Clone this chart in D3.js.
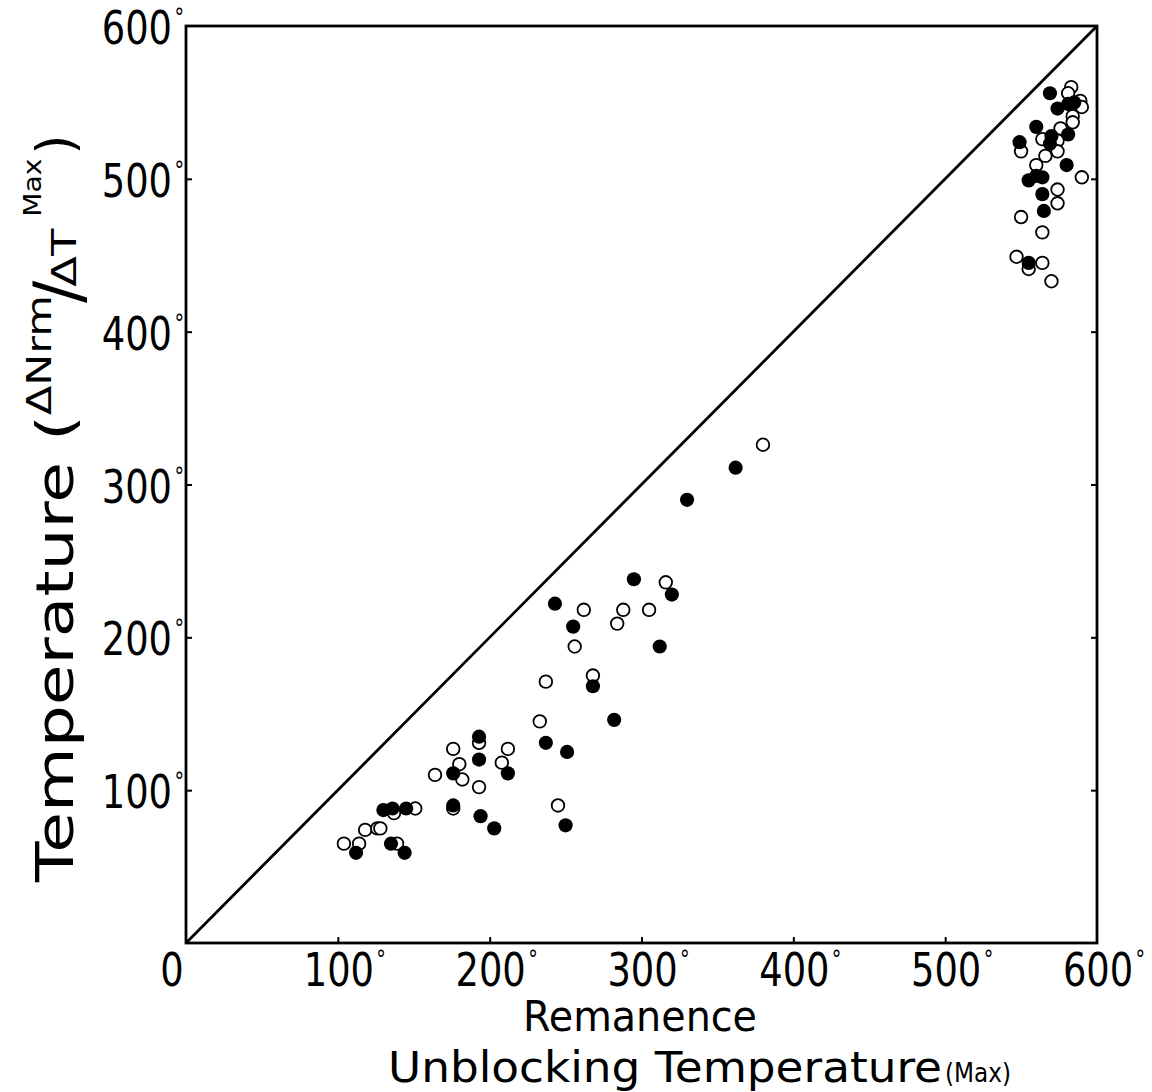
<!DOCTYPE html>
<html>
<head>
<meta charset="utf-8">
<script src="https://cdn.jsdelivr.net/npm/d3@7"></script>
<style>
  html, body { margin: 0; padding: 0; background: #fff; }
  svg { display: block; }
  text { font-family: "DejaVu Sans", "Liberation Sans", sans-serif; fill: #000; }
</style>
</head>
<body>
<svg id="chart" width="1152" height="1092"></svg>
<script>
// ---- data (degrees C) ----
const xTickValues = [0, 100, 200, 300, 400, 500, 600];
const xTickLabels = ["0", "100", "200", "300", "400", "500", "600"];
const yTickValues = [100, 200, 300, 400, 500, 600];
const yTickLabels = ["100", "200", "300", "400", "500", "600"];

// open circles: [unblocking temperature, temperature of max dNrm/dT]
const openPoints = [
  [104, 65], [114, 65], [118, 74], [126, 75], [128, 75], [137, 85], [151, 88], [139, 65],
  [164, 110], [176, 127], [176, 88], [180, 117], [182, 107], [193, 131], [193, 102],
  [208, 118], [212, 127], [233, 145], [237, 171], [245, 90], [256, 194], [262, 218],
  [268, 175], [284, 209], [288, 218], [305, 218], [316, 236], [380, 326],
  [583, 560], [581, 556], [589, 551], [590, 547], [584, 541], [576, 533], [584, 537],
  [564, 526], [574, 525], [550, 518], [566, 515], [574, 518], [560, 509], [590, 501],
  [574, 493], [574, 484], [550, 475], [564, 465], [547, 449], [555, 441], [564, 445],
  [570, 433]
];
// filled circles
const filledPoints = [
  [112, 59], [130, 87], [136, 88], [145, 88], [135, 65], [144, 59], [176, 111], [176, 90],
  [193, 135], [193, 120], [194, 83], [203, 75], [212, 111], [237, 131], [243, 222],
  [251, 125], [250, 77], [255, 207], [268, 168], [282, 146], [295, 238], [312, 194],
  [320, 228], [330, 290], [362, 311],
  [569, 556], [574, 546], [581, 549], [585, 550], [560, 534], [549, 524], [570, 528],
  [581, 529], [569, 523], [580, 509], [555, 499], [560, 502], [564, 501], [564, 490],
  [565, 479], [555, 445]
];

// ---- layout ----
const svg = d3.select("#chart");
const x = d3.scaleLinear().domain([0, 600]).range([186, 1097]);
const y = d3.scaleLinear().domain([0, 600]).range([943, 26]);

// frame
svg.append("rect")
  .attr("x", x(0)).attr("y", y(600))
  .attr("width", x(600) - x(0)).attr("height", y(0) - y(600))
  .attr("fill", "none").attr("stroke", "#000").attr("stroke-width", 2.8);

// inward ticks via d3 axes
const tickLen = 6;
const axB = d3.axisBottom(x).tickValues(xTickValues.slice(1, -1)).tickSize(-tickLen).tickFormat("");
const axL = d3.axisLeft(y).tickValues(yTickValues.slice(0, -1)).tickSize(-tickLen).tickFormat("");
const axR = d3.axisRight(y).tickValues(yTickValues.slice(0, -1)).tickSize(-tickLen).tickFormat("");
[[axB, `translate(0,${y(0)})`], [axL, `translate(${x(0)},0)`], [axR, `translate(${x(600)},0)`]]
  .forEach(([ax, tr]) => {
    const g = svg.append("g").attr("transform", tr).call(ax);
    g.select(".domain").remove();
    g.selectAll("line").attr("stroke", "#000").attr("stroke-width", 2);
  });

// diagonal 1:1 line
svg.append("line")
  .attr("x1", x(0)).attr("y1", y(0)).attr("x2", x(600)).attr("y2", y(600))
  .attr("stroke", "#000").attr("stroke-width", 2.8);

// points
const r = 6.3;
svg.append("g").selectAll("circle").data(openPoints).join("circle")
  .attr("cx", d => x(d[0])).attr("cy", d => y(d[1])).attr("r", r)
  .attr("fill", "#fff").attr("stroke", "#000").attr("stroke-width", 1.8);
svg.append("g").selectAll("circle").data(filledPoints).join("circle")
  .attr("cx", d => x(d[0])).attr("cy", d => y(d[1])).attr("r", r + 0.8)
  .attr("fill", "#000");

// tick labels: condensed number + small raised degree sign in one text element
const tickFont = 46;
const squeeze = 0.8;
function tickLabel(lbl, withDeg, px, py, align) {
  const t = svg.append("text").attr("font-size", tickFont)
    .attr("transform", `translate(${px},${py}) scale(${squeeze},1)`);
  const num = t.append("tspan").text(lbl);
  if (withDeg) t.append("tspan").attr("font-size", 24).attr("dx", 3).attr("dy", -18).text("°");
  const w = num.node().getComputedTextLength();
  t.attr("x", align === "end" ? -w : -w / 2);
}
xTickValues.forEach((v, i) => {
  const cx = v === 0 ? x(0) - 14 : x(v) + 1;
  tickLabel(xTickLabels[i], v !== 0, cx, 986, "middle");
});
yTickValues.forEach((v, i) => {
  tickLabel(yTickLabels[i], true, 172, y(v) + 18, "end");
});

// x axis title
svg.append("text").attr("x", 640).attr("y", 1031).attr("text-anchor", "middle")
  .attr("font-size", 42).attr("textLength", 234).attr("lengthAdjust", "spacingAndGlyphs")
  .text("Remanence");
const ub = svg.append("text").attr("x", 388).attr("y", 1082).attr("font-size", 43);
ub.append("tspan").attr("textLength", 554).attr("lengthAdjust", "spacingAndGlyphs")
  .text("Unblocking Temperature");
ub.append("tspan").attr("font-size", 27).attr("dx", 3).attr("textLength", 66)
  .attr("lengthAdjust", "spacingAndGlyphs").text("(Max)");

// y axis title (rotated, with raised / lowered parts)
const yt = svg.append("text").attr("transform", "translate(73,882) rotate(-90)").attr("font-size", 52);
yt.append("tspan").attr("textLength", 467).attr("lengthAdjust", "spacingAndGlyphs").text("Temperature (");
yt.append("tspan").attr("font-size", 34).attr("dy", -22).attr("textLength", 120)
  .attr("lengthAdjust", "spacingAndGlyphs").text("\u0394Nrm");
yt.append("tspan").attr("font-size", 66).attr("dy", 30).attr("dx", -8).text("/");
yt.append("tspan").attr("font-size", 34).attr("dy", -5).attr("dx", -6).attr("textLength", 58)
  .attr("lengthAdjust", "spacingAndGlyphs").text("\u0394T");
yt.append("tspan").attr("font-size", 24).attr("dy", -35).attr("dx", 12).attr("textLength", 58)
  .attr("lengthAdjust", "spacingAndGlyphs").text("Max");
yt.append("tspan").attr("font-size", 52).attr("dy", 32).attr("dx", 4).text(")");
</script>
</body>
</html>
